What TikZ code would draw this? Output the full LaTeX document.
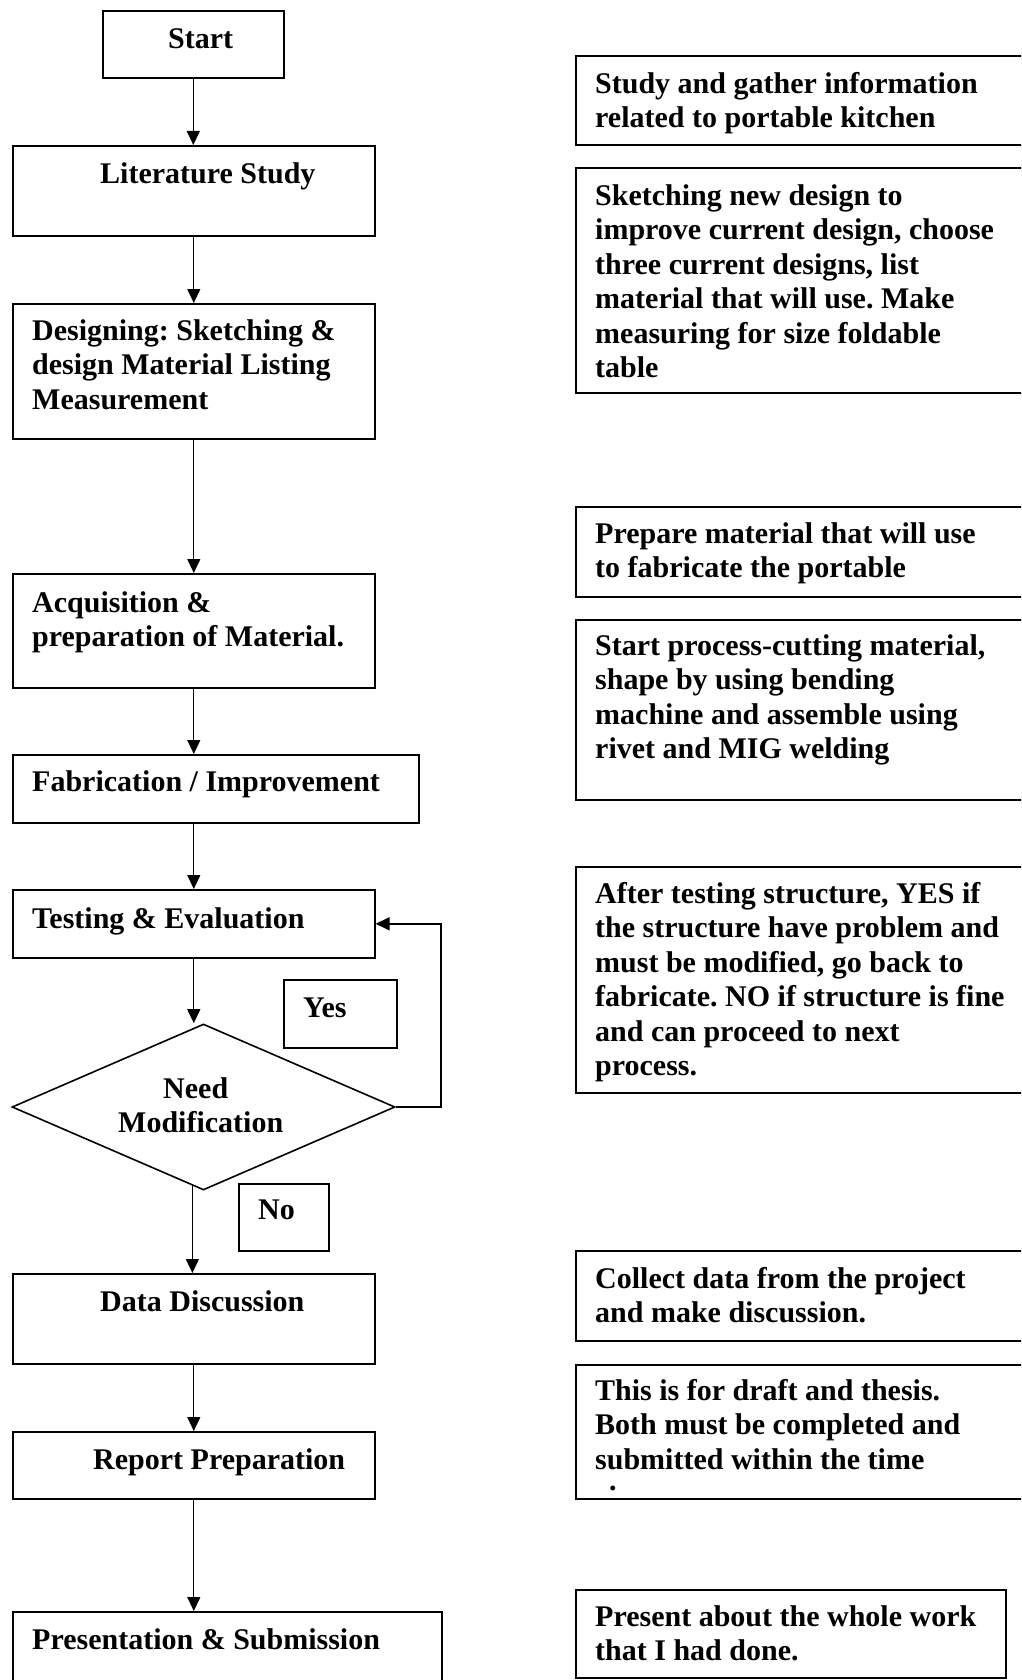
\documentclass[tikz,border=0pt]{standalone}
\usepackage{fontspec}
\setmainfont{Liberation Serif}[Ligatures=CommonOff]
\usetikzlibrary{shapes.geometric,arrows.meta}
\newcommand{\fst}{\rule{0pt}{24pt}}
\frenchspacing
\begin{document}
\begin{tikzpicture}[x=1pt,y=-1pt,
  box/.style={draw, line width=1.6pt, inner sep=0pt, anchor=north west, rectangle},
  dia/.style={draw, line width=1.6pt, inner sep=0pt, diamond},
  txt/.style={inner sep=0pt, anchor=north west, align=left, font=\bfseries\fontsize{30}{34.5}\selectfont},
  arr/.style={line width=1.2pt, -{Triangle[length=14pt,width=13pt]}},
  loopline/.style={line width=1.6pt, -{Triangle[length=14pt,width=13pt]}}]
\useasboundingbox (0,0) rectangle (1021,1680);
\clip (0,0) rectangle (1021,1680);
\fill[white] (0,0) rectangle (1021,1680);

% left column boxes
\node[box, minimum width=181pt, minimum height=67pt] (start) at (102,10) {};
\node[box, minimum width=362pt, minimum height=90pt] (lit) at (12,145) {};
\node[box, minimum width=362pt, minimum height=135pt] (des) at (12,303) {};
\node[box, minimum width=362pt, minimum height=114pt] (acq) at (12,573) {};
\node[box, minimum width=406pt, minimum height=68pt] (fab) at (12,754) {};
\node[box, minimum width=362pt, minimum height=68pt] (test) at (12,889) {};
\node[box, minimum width=113pt, minimum height=68pt] (yes) at (283,979) {};
\node[dia, minimum width=383pt, minimum height=166pt] (need) at (203.5,1107) {};
\node[box, minimum width=90pt, minimum height=67pt] (no) at (238,1183) {};
\node[box, minimum width=362pt, minimum height=90pt] (data) at (12,1273) {};
\node[box, minimum width=362pt, minimum height=67pt] (rep) at (12,1431) {};
\node[box, minimum width=429pt, minimum height=100pt] (pres) at (12,1611) {};

% left column texts
\node[txt] (start-t) at (168,24) {\fst Start};
\node[txt] (lit-t) at (100,159) {\fst Literature Study};
\node[txt] (des-t) at (32,316) {\fst Designing: Sketching \&\\design Material Listing\\Measurement};
\node[txt] (acq-t) at (32,588) {\fst Acquisition \&\\preparation of Material.};
\node[txt] (fab-t) at (32,767) {\fst Fabrication / Improvement};
\node[txt] (test-t) at (32,904) {\fst Testing \& Evaluation};
\node[txt] (yes-t) at (303,993) {\fst Yes};
\node[txt] (need-t) at (118,1074) {\fst\hspace*{45pt}Need\\Modification};
\node[txt] (no-t) at (258,1195) {\fst No};
\node[txt] (data-t) at (100,1287) {\fst Data Discussion};
\node[txt] (rep-t) at (93,1445) {\fst Report Preparation};
\node[txt] (pres-t) at (32,1625) {\fst Presentation \& Submission};

% right column boxes
\node[box, minimum width=460pt, minimum height=89pt] (r1) at (575,55) {};
\node[box, minimum width=460pt, minimum height=225pt] (r2) at (575,167) {};
\node[box, minimum width=460pt, minimum height=90pt] (r3) at (575,506) {};
\node[box, minimum width=460pt, minimum height=180pt] (r4) at (575,619) {};
\node[box, minimum width=460pt, minimum height=226pt] (r5) at (575,866) {};
\node[box, minimum width=460pt, minimum height=90pt] (r6) at (575,1250) {};
\node[box, minimum width=460pt, minimum height=134pt] (r7) at (575,1364) {};
\node[box, minimum width=430pt, minimum height=88pt] (r8) at (575,1589) {};

% right column texts
\node[txt] (r1-t) at (595,69) {\fst Study and gather information\\related to portable kitchen};
\node[txt] (r2-t) at (595,181) {\fst Sketching new design to\\improve current design, choose\\three current designs, list\\material that will use. Make\\measuring for size foldable\\table};
\node[txt] (r3-t) at (595,519) {\fst Prepare material that will use\\to fabricate the portable};
\node[txt] (r4-t) at (595,631) {\fst Start process-cutting material,\\shape by using bending\\machine and assemble using\\rivet and MIG welding};
\node[txt] (r5-t) at (595,879) {\fst After testing structure, YES if\\the structure have problem and\\must be modified, go back to\\fabricate. NO if structure is fine\\and can proceed to next\\process.};
\node[txt] (r6-t) at (595,1264) {\fst Collect data from the project\\and make discussion.};
\node[txt] (r7-t) at (595,1376) {\fst This is for draft and thesis.\\Both must be completed and\\submitted within the time};
\node[inner sep=0pt, anchor=base west, font=\bfseries\fontsize{30}{34.5}\selectfont] (r7-dot) at (609,1490) {.};
\node[txt] (r8-t) at (595,1602) {\fst Present about the whole work\\that I had done.};

% connectors
\draw[arr] (start.south) -- (start.south |- lit.north);
\draw[arr] (lit.south) -- (des.north);
\draw[arr] (des.south) -- (acq.north);
\draw[arr] (acq.south) -- (acq.south |- fab.north);
\draw[arr] (test.north |- fab.south) -- (test.north);
\draw[arr] (test.south) -- (test.south |- need.north);
\draw[loopline] (need.east) -- ++(45,0) |- (test.east);
\draw[arr] (need.262) -- (need.262 |- data.north);
\draw[arr] (data.south) -- (rep.north);
\draw[arr] (rep.south) -- (rep.south |- pres.north);
\end{tikzpicture}
\end{document}
